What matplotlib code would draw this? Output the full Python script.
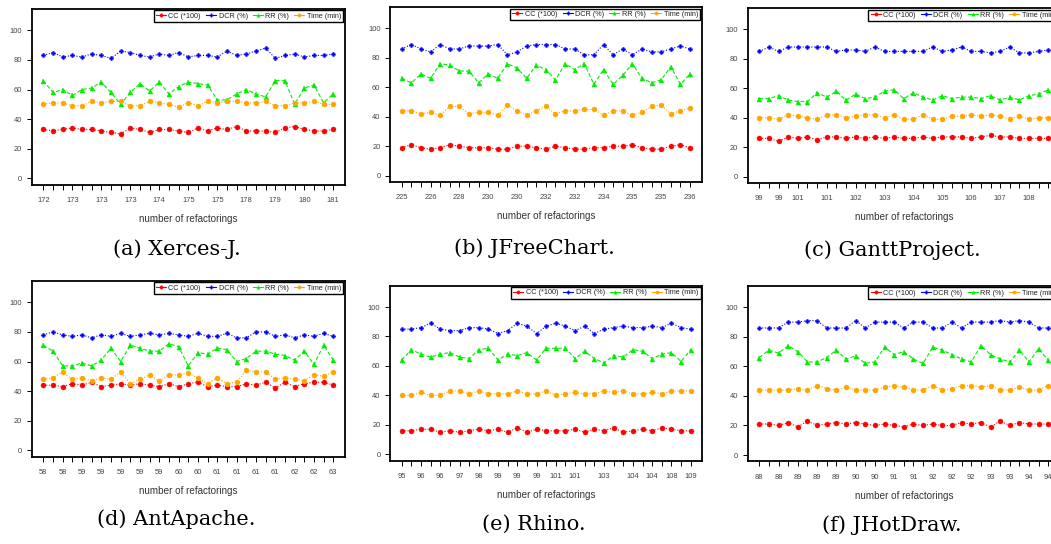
import matplotlib
matplotlib.use("Agg")
import matplotlib.pyplot as plt
from matplotlib.lines import Line2D

plt.rcParams['font.family'] = ['Liberation Sans', 'DejaVu Sans']

# ---------------- data ----------------
series_names = ["CC (*100)", "DCR (%)", "RR (%)", "Time (min)"]
captions = ["(a) Xerces-J.", "(b) JFreeChart.", "(c) GanttProject.",
            "(d) AntApache.", "(e) Rhino.", "(f) JHotDraw."]

# x tick labels (number of refactorings); empty = label not drawn
xlabels_a = "172,,,173,,,173,,,173,,,174,,,175,,,175,,,178,,,179,,,180,,,181".split(",")
xlabels_b = "225,,,226,,,228,,,230,,,230,,,232,,,232,,,234,,,235,,,235,,,236".split(",")
xlabels_c = "99,,99,,101,,,101,,,102,,,103,,,104,,,105,,,106,,,107,,,108,,".split(",")
xlabels_d = "58,,58,,59,,59,,59,,59,,59,,60,,60,,61,,61,,61,,61,,62,,62,,63".split(",")
xlabels_e = "95,,96,,96,,97,,98,,99,,99,,99,,101,,101,,,103,,,104,,104,,108,,109".split(",")
xlabels_f = "88,,88,,89,,89,,89,,90,,90,,91,,91,,92,,92,,92,,93,,93,,94,,94".split(",")

cc_a = [33,32,33,34,33,33,32,31,30,34,33,31,33,33,32,31,34,32,34,33,35,32,32,32,31,34,35,33,32,32,33]
dcr_a = [83,85,82,83,82,84,83,81,86,85,83,82,84,83,85,82,83,83,82,86,83,84,86,88,81,83,84,82,83,83,84]
rr_a = [66,58,60,56,60,61,65,58,50,58,64,59,65,57,62,65,64,63,53,53,57,60,57,55,66,66,50,61,63,51,57]
time_a = [50,51,51,49,49,52,51,52,52,49,49,52,51,50,48,51,49,52,51,52,52,51,51,52,49,49,51,51,52,50,50]

cc_b = [19,21,19,18,19,21,20,19,19,19,18,18,20,20,19,18,20,19,18,18,19,19,20,20,21,19,18,18,20,21,19]
dcr_b = [86,89,86,84,89,86,86,88,88,88,89,82,84,88,89,89,89,86,86,82,82,89,82,86,82,86,84,84,86,88,86]
rr_b = [66,63,69,66,76,75,71,71,63,69,66,76,73,66,75,72,65,76,72,76,62,72,62,68,76,66,63,65,74,62,69]
time_b = [44,44,42,43,41,47,47,42,43,43,41,48,44,41,44,47,42,44,44,45,45,41,44,44,41,43,47,48,42,44,46]

cc_c = [26,26,24,27,26,27,25,27,27,26,27,26,27,26,27,26,26,27,26,27,27,27,26,27,28,27,27,26,26,26,26]
dcr_c = [85,88,85,88,88,88,88,88,85,86,86,85,88,85,85,85,85,85,88,85,86,88,85,85,84,85,88,84,84,85,86]
rr_c = [53,53,55,52,51,51,57,54,58,52,56,53,54,58,59,53,57,54,52,55,53,54,54,53,55,52,54,52,55,56,59]
time_c = [40,40,39,42,41,40,39,42,42,40,41,42,42,40,42,39,39,42,39,39,41,41,42,41,42,41,39,41,39,40,40]

cc_d = [44,44,43,45,44,46,43,44,45,44,45,44,43,45,43,45,46,43,44,43,43,45,44,46,42,46,43,45,46,46,44]
dcr_d = [78,80,78,77,78,76,78,77,79,77,78,79,78,79,78,77,79,77,77,79,76,76,80,80,77,78,76,78,77,79,77]
rr_d = [71,67,57,57,59,57,61,69,60,71,69,67,67,72,70,57,66,65,69,68,60,62,67,67,65,64,61,67,58,71,61]
time_d = [48,49,53,48,49,47,49,48,53,45,48,51,47,51,51,52,49,45,49,45,46,54,53,53,48,49,48,47,51,50,53]

cc_e = [16,16,17,17,15,16,15,16,17,16,17,15,18,15,17,16,16,16,17,15,17,16,18,15,16,17,16,18,17,16,16]
dcr_e = [85,85,86,89,85,84,84,86,86,85,82,84,89,87,82,87,89,87,84,87,82,85,86,87,86,86,87,86,89,86,85]
rr_e = [64,71,68,66,68,69,66,65,71,72,64,68,67,69,64,72,72,72,65,70,65,62,67,66,71,70,65,68,69,63,71]
time_e = [40,40,42,40,40,43,43,41,43,41,41,41,43,41,41,43,40,41,42,41,41,43,42,43,41,41,42,41,43,43,43]

cc_f = [21,21,20,22,19,23,20,21,22,21,22,21,20,21,20,19,21,20,21,20,20,22,21,22,19,23,20,22,21,21,21]
dcr_f = [86,86,86,90,90,91,91,86,86,86,91,86,90,90,90,86,90,90,86,86,90,86,90,90,90,91,90,91,90,86,86]
rr_f = [66,71,69,74,70,63,63,66,71,65,67,62,63,73,68,70,65,62,73,71,68,65,63,74,68,65,63,71,63,72,64]
time_f = [44,44,44,44,45,44,47,45,44,46,44,44,44,46,47,46,44,44,47,44,45,47,47,46,47,44,44,46,44,44,47]

panels = [
    (xlabels_a, [cc_a, dcr_a, rr_a, time_a]),
    (xlabels_b, [cc_b, dcr_b, rr_b, time_b]),
    (xlabels_c, [cc_c, dcr_c, rr_c, time_c]),
    (xlabels_d, [cc_d, dcr_d, rr_d, time_d]),
    (xlabels_e, [cc_e, dcr_e, rr_e, time_e]),
    (xlabels_f, [cc_f, dcr_f, rr_f, time_f]),
]

# ---------------- layout / style ----------------
W, H = 1051, 544
# pixel anchors: (x of first point, x of last point, y of value 0, y of value 100)
anchors = [
    (43.3, 333.3, 178.3, 30.3),
    (401.7, 690.0, 175.7, 28.3),
    (759.3, 1048.3, 176.7, 29.3),
    (43.3, 333.3, 450.3, 302.3),
    (401.7, 690.7, 454.3, 307.0),
    (759.3, 1048.3, 455.0, 307.3),
]
caption_pos = [(176.7, 249), (534, 248), (892, 250), (176.7, 519), (534, 524), (892, 525)]
XLIM = (-1.2, 31.2)
YLIM = (-4.4, 114.4)

colors = ["#FF0000", "#0000FF", "#00EE00", "#FFA500"]
markers = ["o", "P", "^", "o"]
msizes = [3.6, 3.0, 3.6, 3.6]
lstyles = [(0, (1, 1.6)), (0, (1, 1.6)), (0, (3.5, 2)), (0, (1, 1.6))]
tick_color = "#444444"

fig = plt.figure(figsize=(W / 100, H / 100), dpi=100)

for (xl, series), (x0, x30, y0, y100), cap, cpos in zip(panels, anchors, captions, caption_pos):
    ppi = (x30 - x0) / 30.0
    ppu = (y0 - y100) / 100.0
    left = x0 + XLIM[0] * ppi
    right = x0 + XLIM[1] * ppi
    top = y0 - YLIM[1] * ppu
    bottom = y0 - YLIM[0] * ppu
    ax = fig.add_axes([left / W, 1 - bottom / H, (right - left) / W, (bottom - top) / H])
    xs = list(range(len(series[0])))
    for vals, c, m, ms, ls in zip(series, colors, markers, msizes, lstyles):
        ax.plot(xs, vals, color=c, linestyle=ls, linewidth=0.8,
                marker=m, markersize=ms, markeredgewidth=0.3, markeredgecolor=c)
    ax.set_xlim(*XLIM)
    ax.set_ylim(*YLIM)
    ax.set_xticks(xs)
    ax.set_xticklabels(xl)
    ax.set_yticks([0, 20, 40, 60, 80, 100])
    ax.tick_params(axis='both', direction='out', length=3.8, width=0.7,
                   colors='black', labelcolor=tick_color, labelsize=5.4)
    ax.tick_params(axis='x', pad=5)
    ax.tick_params(axis='y', pad=3.2)
    for sp in ax.spines.values():
        sp.set_linewidth(1.3)
        sp.set_color('black')
    ax.annotate("number of refactorings", xy=(0.5, 0), xycoords='axes fraction',
                xytext=(0, -24.5), textcoords='offset points',
                ha='center', va='center', fontsize=7.1, color='#333333')
    handles = [Line2D([], [], color=c, lw=0.8, marker=m, markersize=2.4,
                      markeredgewidth=0.3)
               for c, m in zip(colors, markers)]
    leg = ax.legend(handles, series_names, loc='upper right', ncol=4, fontsize=5.2,
                    frameon=True, fancybox=False, edgecolor='black',
                    handlelength=1.4, handletextpad=0.35, columnspacing=0.7,
                    borderpad=0.3, borderaxespad=0.2, framealpha=1)
    leg.get_frame().set_linewidth(1.0)
    for t in leg.get_texts():
        t.set_color('#222222')
    fig.text(cpos[0] / W, 1 - cpos[1] / H, cap, ha='center', va='center',
             fontsize=15, family='DejaVu Serif', color='black')

fig.savefig("out.png", dpi=100)
